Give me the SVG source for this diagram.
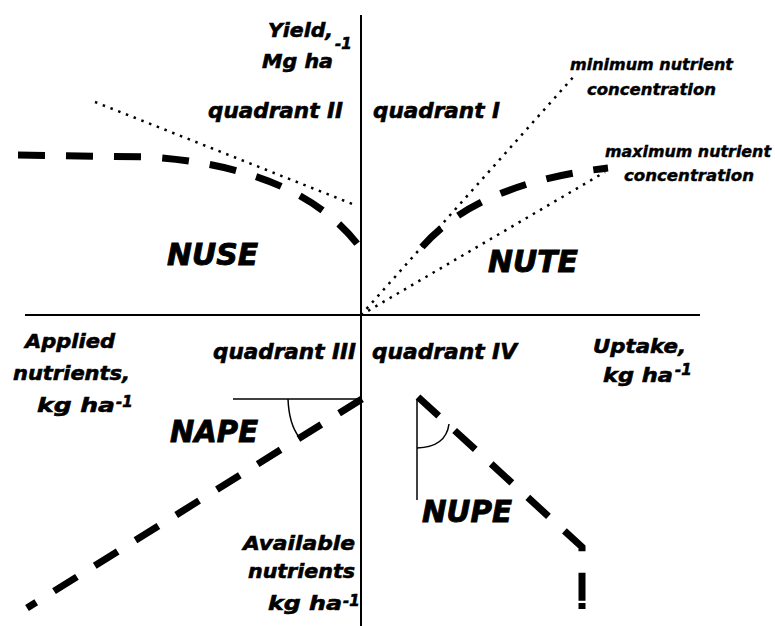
<svg xmlns="http://www.w3.org/2000/svg" width="775" height="626" viewBox="0 0 775 626">
<style>
.t{font-family:"DejaVu Sans","Liberation Sans",sans-serif;font-weight:bold;font-style:oblique;fill:#000;stroke:#000;stroke-width:0.6}
.ax{font-size:20px}
.q{font-size:22px}
.s{font-size:15px;stroke-width:0.4}
.big{font-size:30px;stroke-width:0.9}
.sup{font-size:15px}
.axis{stroke:#000;stroke-width:2;fill:none}
.thin{stroke:#000;stroke-width:1.5;fill:none}
.dash{stroke:#000;stroke-width:7;stroke-dasharray:27 21;fill:none}
.dot{stroke:#000;stroke-width:2.5;stroke-dasharray:2.5 5.8;fill:none}
</style>
<rect width="775" height="626" fill="#fff"/>
<g id="axes">
<line class="axis" x1="361" y1="15" x2="361" y2="626"/>
<line class="axis" x1="25" y1="315" x2="700" y2="315"/>
</g>
<g id="connectors">
<path id="nuse-curve" class="dash" d="M18,155 L150,157 Q298,167 359,246"/>
<line id="nuse-tangent" class="dot" x1="95" y1="102" x2="355" y2="205"/>
<line id="min-conc" class="dot" x1="361" y1="315" x2="576" y2="74"/>
<line id="max-conc" class="dot" x1="361" y1="315" x2="605" y2="172"/>
<path id="nute-curve" class="dash" d="M422,247 Q478,183 608,168"/>
<line id="nape-ref" class="thin" x1="233" y1="399" x2="362" y2="399"/>
<path id="nape-arc" class="thin" d="M288,399 Q289,424 299,437"/>
<line id="nape-line" class="dash" x1="362" y1="399" x2="27" y2="608"/>
<line id="nupe-ref" class="thin" x1="417" y1="399" x2="417" y2="500"/>
<path id="nupe-arc" class="thin" d="M417,448 Q446,447 449,424"/>
<path id="nupe-line" class="dash" style="stroke-dasharray:28 21.6" d="M418,397 L582,547 L582,601"/>
<line id="nupe-end" x1="582" y1="603" x2="582" y2="609" stroke="#000" stroke-width="7"/>
</g>
<g id="axis-labels">
<g id="yield-label">
<text class="t ax" x="268" y="37" textLength="65" lengthAdjust="spacingAndGlyphs">Yield,</text>
<text class="t ax" x="262" y="68" textLength="71" lengthAdjust="spacingAndGlyphs">Mg ha</text>
<text class="t sup" x="335" y="49">-1</text>
</g>
<g id="applied-label">
<text class="t ax" x="25" y="348" textLength="90" lengthAdjust="spacingAndGlyphs">Applied</text>
<text class="t ax" x="13" y="380" textLength="117" lengthAdjust="spacingAndGlyphs">nutrients,</text>
<text class="t ax" x="37" y="412" textLength="78" lengthAdjust="spacingAndGlyphs">kg ha</text>
<text class="t sup" x="116" y="407">-1</text>
</g>
<g id="uptake-label">
<text class="t ax" x="593" y="353" textLength="93" lengthAdjust="spacingAndGlyphs">Uptake,</text>
<text class="t ax" x="603" y="382" textLength="70" lengthAdjust="spacingAndGlyphs">kg ha</text>
<text class="t sup" x="675" y="375">-1</text>
</g>
<g id="available-label">
<text class="t ax" x="243" y="550" textLength="112" lengthAdjust="spacingAndGlyphs">Available</text>
<text class="t ax" x="248" y="578" textLength="107" lengthAdjust="spacingAndGlyphs">nutrients</text>
<text class="t ax" x="268" y="610" textLength="74" lengthAdjust="spacingAndGlyphs">kg ha</text>
<text class="t sup" x="343" y="606">-1</text>
</g>
</g>
<g id="quadrant-labels">
<text id="q2" class="t q" x="208" y="118" textLength="135" lengthAdjust="spacingAndGlyphs">quadrant II</text>
<text id="q1" class="t q" x="373" y="118" textLength="127" lengthAdjust="spacingAndGlyphs">quadrant I</text>
<text id="q3" class="t q" x="213" y="359" textLength="143" lengthAdjust="spacingAndGlyphs">quadrant III</text>
<text id="q4" class="t q" x="372" y="359" textLength="145" lengthAdjust="spacingAndGlyphs">quadrant IV</text>
</g>
<g id="concentration-labels">
<g id="min-label">
<text class="t s" x="570" y="70" textLength="163" lengthAdjust="spacingAndGlyphs">minimum nutrient</text>
<text class="t s" x="587" y="95" textLength="129" lengthAdjust="spacingAndGlyphs">concentration</text>
</g>
<g id="max-label">
<text class="t s" x="605" y="157" textLength="166" lengthAdjust="spacingAndGlyphs">maximum nutrient</text>
<text class="t s" x="624" y="181" textLength="130" lengthAdjust="spacingAndGlyphs">concentration</text>
</g>
</g>
<g id="efficiency-labels">
<text id="nuse" class="t big" x="167" y="265" textLength="91" lengthAdjust="spacingAndGlyphs">NUSE</text>
<text id="nute" class="t big" x="488" y="272" textLength="90" lengthAdjust="spacingAndGlyphs">NUTE</text>
<text id="nape" class="t big" x="170" y="442" textLength="88" lengthAdjust="spacingAndGlyphs">NAPE</text>
<text id="nupe" class="t big" x="422" y="522" textLength="90" lengthAdjust="spacingAndGlyphs">NUPE</text>
</g>
</svg>
